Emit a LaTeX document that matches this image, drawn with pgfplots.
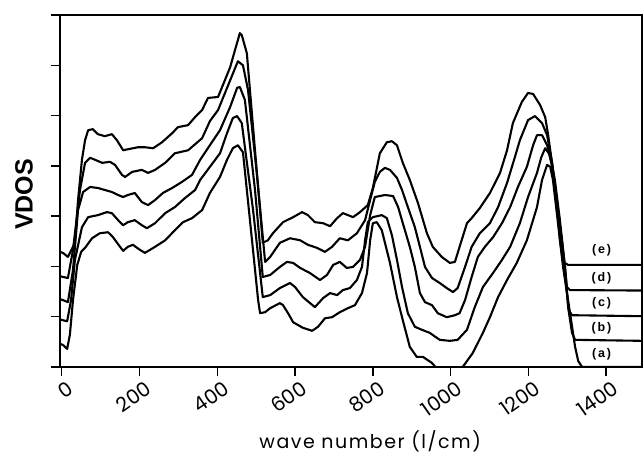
\documentclass[border=0pt]{standalone}
\usepackage{pgfplots}
\pgfplotsset{compat=1.18}
\usepackage{pgfplotstable}
\usepackage{fontspec}
\setmainfont{Poppins}
\newfontfamily\vdosfont{Liberation Sans}
\newfontfamily\xlabfont[LetterSpace=8]{Poppins}
\newfontfamily\curvefont[LetterSpace=15]{Liberation Sans}

\pgfplotstableread{
x y
-5 0.46
3 0.44
14 0.36
21 0.64
29 1.33
40 2.03
50 2.29
60 2.37
78 2.56
98 2.66
119 2.68
132 2.58
150 2.39
158 2.31
170 2.39
183 2.43
201 2.33
214 2.27
240 2.39
266 2.52
291 2.72
312 2.88
335 2.96
361 3.12
381 3.46
407 3.78
425 4.12
440 4.35
453 4.41
466 4.27
484 2.92
505 1.33
510 1.07
523 1.09
536 1.17
561 1.27
569 1.23
582 1.07
595 0.89
620 0.78
644 0.72
659 0.80
677 0.97
695 0.99
715 1.09
736 1.17
754 1.23
772 1.47
785 1.87
793 2.52
800 2.86
810 2.88
823 2.72
844 2.07
862 1.39
877 0.93
895 0.40
913 0.20
929 0.20
952 0.08
972 -0.10
1011 -0.16
1031 0
1057 0.28
1083 0.68
1101 0.99
1122 1.39
1145 1.73
1170 2.07
1196 2.52
1222 3.18
1235 3.72
1248 4.02
1256 3.98
1263 3.72
1273 3.06
1289 1.99
1307 1.07
1320 0.40
1328 0.12
1338 0
1495 0
}\curveA

\pgfplotstableread{
x y
-5 0.95
3 0.93
14 0.91
24 1.33
34 2.13
52 2.78
68 2.98
93 3.02
116 3.08
129 3.06
145 2.92
158 2.82
170 2.88
188 2.92
206 2.82
219 2.76
240 2.86
266 3.06
291 3.18
317 3.36
343 3.52
356 3.72
381 3.98
407 4.25
425 4.65
440 4.95
451 4.99
463 4.85
492 3.12
517 1.39
536 1.43
561 1.57
587 1.67
600 1.59
620 1.39
651 1.19
672 1.37
690 1.47
708 1.43
723 1.53
741 1.57
759 1.73
772 1.99
780 2.52
787 2.88
800 2.98
823 3.02
836 2.96
849 2.62
862 2.13
875 1.59
890 1.07
908 0.80
926 0.74
946 0.68
972 0.54
998 0.52
1018 0.54
1042 0.74
1062 1.19
1083 1.59
1109 1.87
1132 2.13
1153 2.39
1178 2.86
1199 3.38
1222 3.86
1233 4.17
1243 4.35
1256 4.21
1268 3.72
1281 2.92
1294 1.99
1302 1.19
1312 0.68
1320 0.54
1495 0.52
}\curveB

\pgfplotstableread{
x y
-5 1.35
3 1.33
16 1.29
29 1.93
42 3.12
55 3.48
73 3.58
93 3.56
111 3.52
129 3.48
145 3.42
158 3.38
170 3.42
188 3.46
206 3.28
222 3.22
240 3.32
260 3.46
284 3.56
309 3.68
335 3.82
356 4.12
381 4.41
407 4.71
433 5.17
451 5.55
458 5.57
471 5.31
497 3.52
517 1.79
536 1.83
561 1.99
579 2.09
595 2.07
613 1.97
638 1.87
664 1.73
682 1.83
698 2.03
715 2.09
733 1.97
749 1.99
767 2.13
780 2.39
793 3.02
805 3.38
831 3.42
852 3.40
865 3.18
877 2.86
895 2.39
908 1.99
921 1.47
934 1.29
952 1.23
967 1.07
990 0.99
1011 1.03
1023 1.07
1037 1.33
1054 1.79
1070 2.19
1088 2.39
1109 2.58
1132 2.86
1153 3.18
1173 3.58
1196 3.98
1212 4.41
1222 4.61
1235 4.61
1248 4.41
1261 3.98
1276 3.06
1289 2.19
1299 1.47
1304 1.13
1312 1.03
1495 1.01
}\curveC

\pgfplotstableread{
x y
-5 1.81
3 1.79
16 1.77
29 2.33
47 3.52
60 4.06
73 4.16
86 4.12
104 4.06
124 4.08
137 4.02
155 3.82
163 3.78
181 3.88
206 3.92
222 3.86
240 3.92
266 4.06
291 4.25
325 4.31
361 4.55
381 4.89
402 5.11
433 5.70
453 6.08
466 6.00
479 5.51
502 3.82
523 2.09
536 2.19
561 2.47
587 2.56
613 2.52
633 2.43
656 2.37
677 2.29
695 2.39
715 2.56
736 2.52
759 2.66
780 2.92
793 3.32
805 3.68
818 3.88
831 3.96
844 3.92
862 3.76
875 3.52
890 3.18
908 2.78
921 2.39
934 1.99
952 1.77
972 1.67
990 1.57
1006 1.49
1018 1.57
1037 1.99
1054 2.39
1075 2.66
1101 2.86
1122 3.18
1145 3.66
1165 4.17
1178 4.51
1199 4.91
1217 4.99
1235 4.85
1248 4.61
1261 4.06
1273 3.26
1286 2.52
1294 1.99
1299 1.59
1307 1.53
1495 1.52
}\curveD

\pgfplotstableread{
x y
-5 2.29
3 2.27
16 2.19
34 2.47
42 3.32
52 4.12
60 4.51
68 4.71
80 4.73
93 4.63
111 4.59
129 4.63
142 4.51
158 4.31
170 4.33
196 4.37
214 4.37
235 4.35
258 4.47
284 4.65
299 4.77
325 4.81
343 4.97
361 5.11
376 5.35
402 5.37
433 5.96
458 6.64
463 6.60
476 6.24
497 4.31
517 2.47
530 2.52
543 2.66
569 2.88
595 2.98
618 3.08
633 3.02
651 2.88
672 2.86
690 2.80
708 2.96
723 3.06
736 3.02
749 2.98
767 3.08
787 3.22
800 3.56
818 4.25
836 4.47
849 4.49
862 4.41
877 4.06
895 3.72
916 3.26
939 2.66
954 2.39
977 2.19
998 2.07
1011 2.09
1023 2.39
1042 2.86
1054 2.96
1075 3.16
1101 3.46
1127 3.86
1145 4.31
1160 4.85
1183 5.27
1199 5.45
1212 5.43
1230 5.21
1243 4.97
1250 4.65
1263 3.92
1273 3.26
1281 2.52
1289 2.09
1302 2.03
1495 2.03
}\curveE

\begin{document}
\begin{tikzpicture}
\begin{axis}[
  at={(0,0)}, anchor=south west,
  scale only axis, width=582pt, height=352pt,
  xmin=-4.4, xmax=1492, ymin=0, ymax=7,
  xtick={0,200,...,1400}, ytick={0,1,...,7}, yticklabels={},
  xtick pos=left, ytick pos=left, tick align=outside,
  major tick length=9pt,
  every tick/.style={black, line width=1.5pt},
  axis line style={line width=2pt},
  /pgf/number format/assume math mode=true,
  /pgf/number format/1000 sep={},
  xticklabel style={rotate=35, anchor=north east, inner sep=0pt, xshift=2pt, yshift=-6pt, font=\fontsize{20}{20}\selectfont},
  xlabel={\xlabfont wave number (l/cm)},
  xlabel style={at={(axis description cs:0.533,-0.232)}, anchor=base, font=\fontsize{19}{19}\selectfont},
  ylabel={VDOS},
  ylabel style={at={(axis description cs:-0.062,0.49)}, anchor=center, font=\vdosfont\bfseries\fontsize{25}{25}\selectfont},
  clip=true,
]
\addplot[black, line width=2.1pt, line join=round] table[x=x,y=y] {\curveA};
\addplot[black, line width=2.1pt, line join=round] table[x=x,y=y] {\curveB};
\addplot[black, line width=2.1pt, line join=round] table[x=x,y=y] {\curveC};
\addplot[black, line width=2.1pt, line join=round] table[x=x,y=y] {\curveD};
\addplot[black, line width=2.1pt, line join=round] table[x=x,y=y] {\curveE};
\node[font=\curvefont\bfseries\fontsize{12.5}{12.5}\selectfont] at (axis cs:1388,2.33) {(e)};
\node[font=\curvefont\bfseries\fontsize{12.5}{12.5}\selectfont] at (axis cs:1388,1.77) {(d)};
\node[font=\curvefont\bfseries\fontsize{12.5}{12.5}\selectfont] at (axis cs:1388,1.27) {(c)};
\node[font=\curvefont\bfseries\fontsize{12.5}{12.5}\selectfont] at (axis cs:1388,0.78) {(b)};
\node[font=\curvefont\bfseries\fontsize{12.5}{12.5}\selectfont] at (axis cs:1388,0.26) {(a)};
\end{axis}
\pgfresetboundingbox
\useasboundingbox (-60pt,-88pt) rectangle (583pt,367pt);
\end{tikzpicture}
\end{document}
